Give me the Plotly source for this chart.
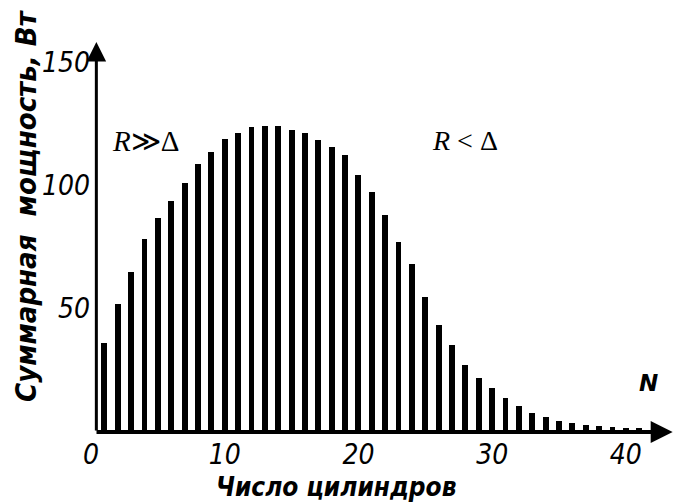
import plotly.graph_objects as go

# Data
cylinders = list(range(1, 42))
power_w = [36, 52, 65, 78, 86.5, 93.5, 100.7, 108.4, 113.5, 118.5,
           121.2, 123.6, 124, 124, 122.5, 121, 118.2, 115.5, 112.4, 104,
           97.3, 87.9, 76.8, 68, 54.8, 43.3, 35.2, 27.3, 22, 17.9,
           13.8, 10.6, 7.6, 6, 4.6, 3.5, 3, 2.5, 2.1, 1.8, 1.5]
x_ticks = [0, 10, 20, 30, 40]
y_ticks = [50, 100, 150]

X_MAX = 43.6
Y_MAX = 160
L, R, T, B = 91, 10, 37, 72
W, H = 684, 504
pw = W - L - R
ph = H - T - B

def px2paper_x(px):
    return (px - L) / pw

def px2paper_y(py):
    return (H - B - py) / ph

tick_font = dict(family="Liberation Sans Narrow, DejaVu Sans Condensed", size=28,
                 color="black", style="italic")

fig = go.Figure(go.Bar(x=cylinders, y=power_w, width=0.44,
                       marker=dict(color="black", line=dict(width=0))))

annotations = [
    # y axis with arrow
    dict(x=0.4, y=158, ax=0.4, ay=0, xref="x", yref="y", axref="x", ayref="y",
         text="", showarrow=True, arrowhead=2, arrowsize=1.3, arrowwidth=3,
         arrowcolor="black"),
    # x axis with arrow
    dict(x=43.5, y=0, ax=0.3, ay=0, xref="x", yref="y", axref="x", ayref="y",
         text="", showarrow=True, arrowhead=2, arrowsize=1.1, arrowwidth=4,
         arrowcolor="black"),
    dict(x=41.7, y=20, xref="x", yref="y", text="<b>N</b>", showarrow=False,
         font=dict(family="DejaVu Sans", size=23, color="black", style="italic")),
    dict(x=4.1, y=118, xref="x", yref="y", text="<i>R</i>≫Δ", showarrow=False,
         font=dict(family="Liberation Serif, DejaVu Serif", size=29, color="black")),
    dict(x=28.0, y=118, xref="x", yref="y", text="<i>R</i> &lt; Δ", showarrow=False,
         font=dict(family="Liberation Serif, DejaVu Serif", size=28, color="black")),
    dict(x=px2paper_x(336), y=px2paper_y(487), xref="paper", yref="paper",
         xanchor="center", yanchor="middle",
         text="<b>Число цилиндров</b>", showarrow=False,
         font=dict(family="DejaVu Sans Condensed, DejaVu Sans", size=26,
                   color="black", style="italic")),
    dict(x=px2paper_x(26), y=px2paper_y(206), xref="paper", yref="paper",
         xanchor="center", yanchor="middle",
         text="<b>Суммарная  мощность, Вт</b>", showarrow=False, textangle=-90,
         font=dict(family="DejaVu Sans Condensed, DejaVu Sans", size=29,
                   color="black", style="italic")),
]

fig.update_layout(
    width=W, height=H,
    margin=dict(l=L, r=R, t=T, b=B),
    paper_bgcolor="white", plot_bgcolor="white",
    showlegend=False, bargap=0,
    xaxis=dict(range=[0, X_MAX], tickvals=x_ticks, ticktext=[str(v) for v in x_ticks],
               showgrid=False, zeroline=False, showline=False, ticks="",
               ticklabelstandoff=3, tickfont=tick_font),
    yaxis=dict(range=[0, Y_MAX], tickvals=y_ticks, ticktext=[str(v) for v in y_ticks],
               showgrid=False, zeroline=False, showline=False, ticks="",
               tickfont=tick_font),
    annotations=annotations,
)

fig.write_html("out.html", config={"displayModeBar": False},
               post_script="document.body.style.margin='0';document.body.style.padding='0';")
